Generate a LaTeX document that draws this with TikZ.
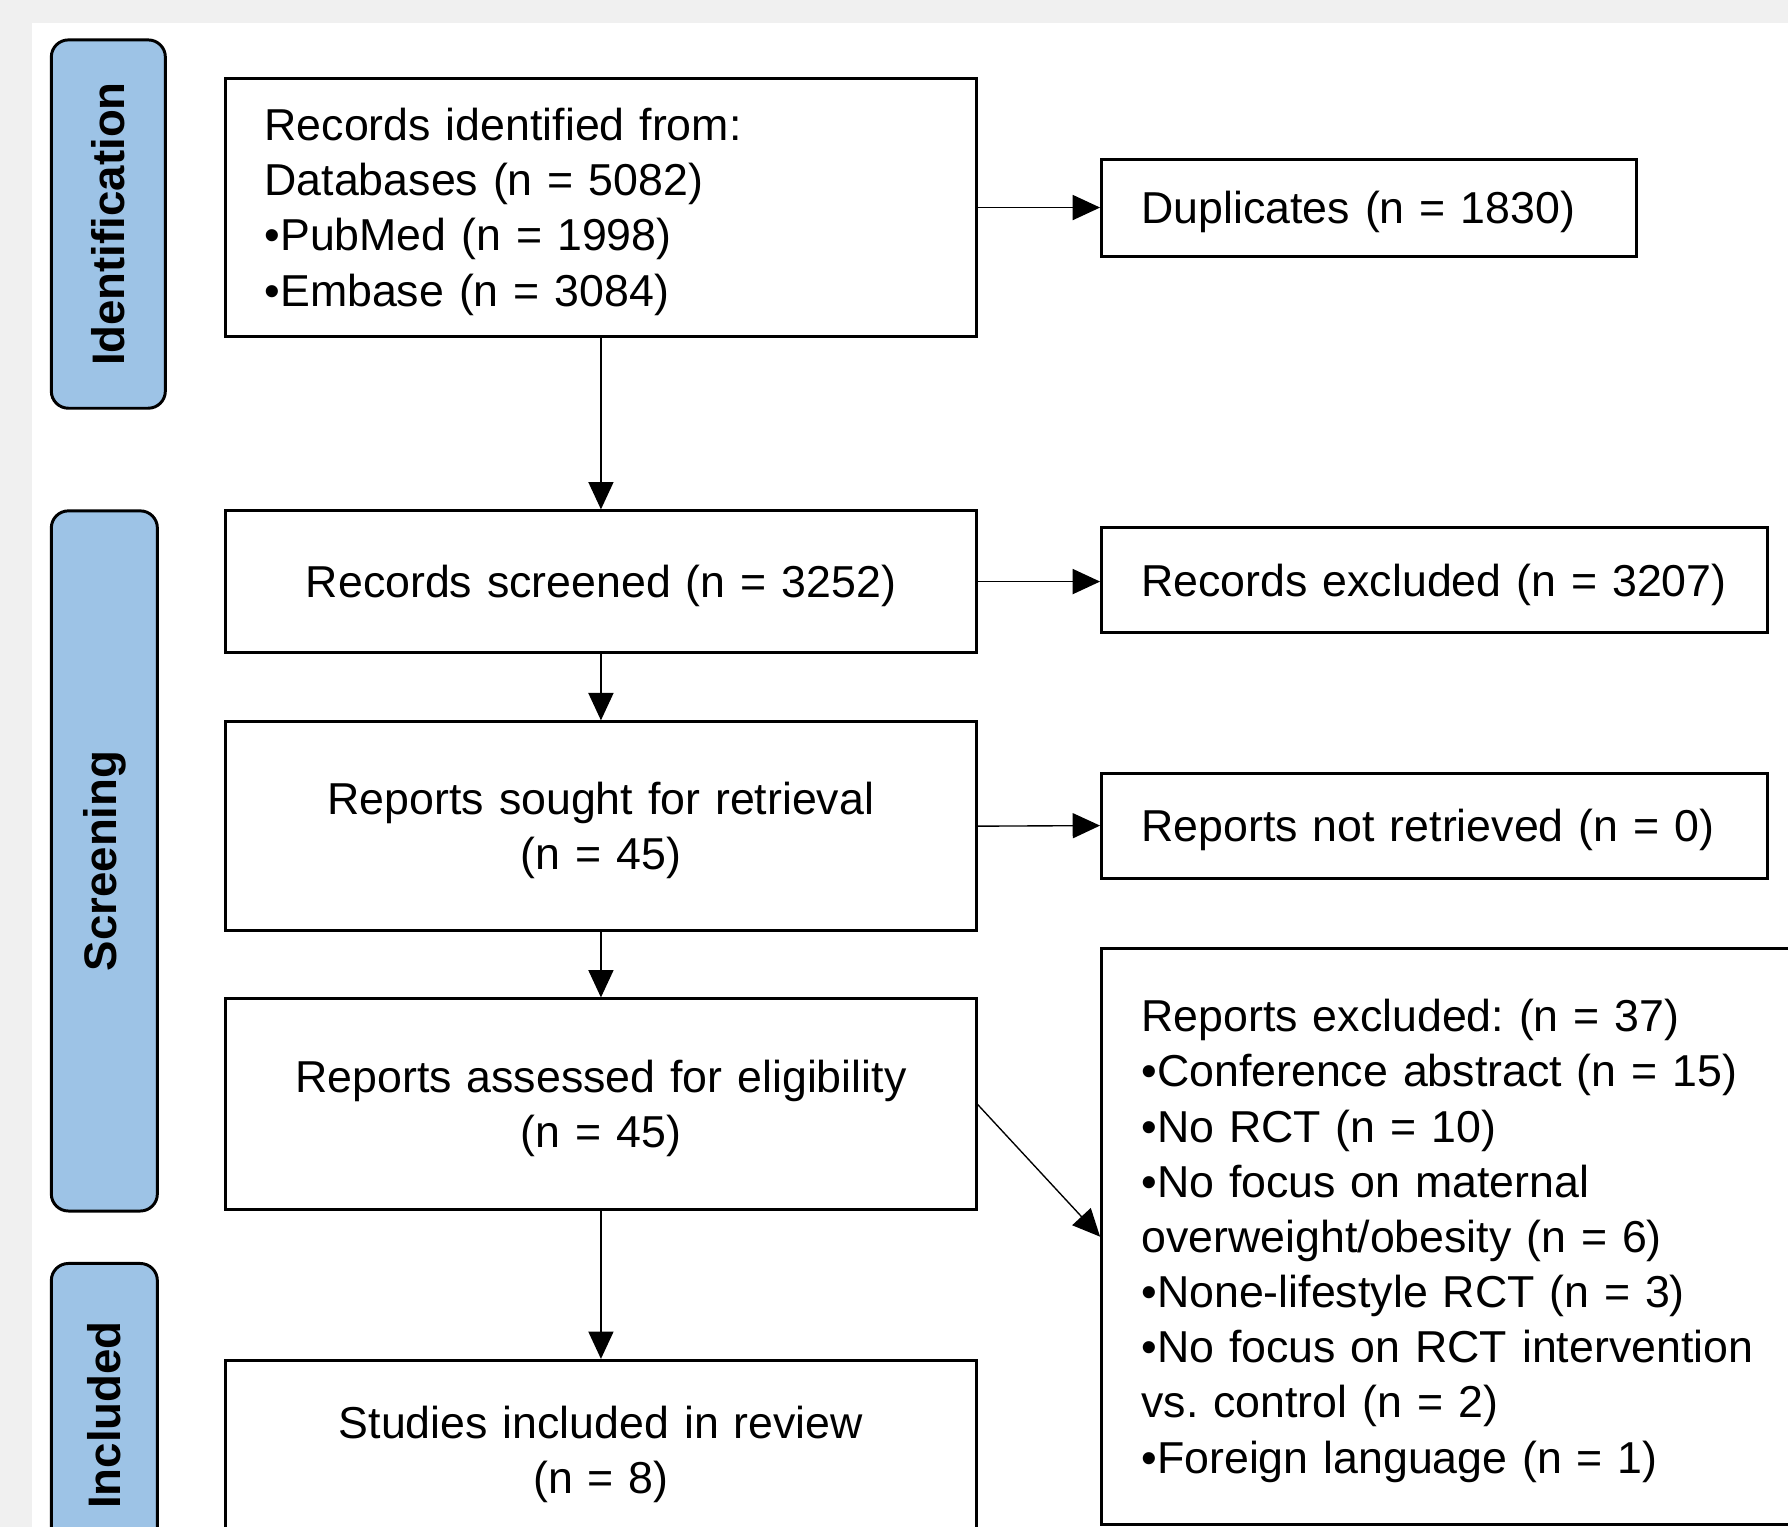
\documentclass[tikz,border=0pt]{standalone}
\usepackage{fontspec}
\setmainfont{Liberation Sans}[WordSpace=0.8]
\usetikzlibrary{arrows.meta}
\definecolor{bggray}{HTML}{F0F0F0}
\definecolor{phaseblue}{HTML}{9DC3E6}
\newcommand{\mainfnt}{\fontsize{19.6pt}{24.2pt}\selectfont\frenchspacing}
\begin{document}
\begin{tikzpicture}[x=0.5pt,y=-0.5pt,
  every node/.style={font=\mainfnt},
  box/.style={draw=black, line width=1.3pt, fill=white, inner ysep=0pt},
  lines/.style={text depth={(#1-1)*24.2pt+0.4pt}},
  cbox/.style={box, inner xsep=0pt, align=center},
  lbox/.style={box, inner xsep=17.5pt, align=left},
  phase/.style={draw=black, line width=1.3pt, fill=phaseblue, rounded corners=7.5pt,
    rotate=90, inner sep=0pt, font=\fontsize{20pt}{24pt}\selectfont\bfseries},
  arr/.style={line width=0.6pt, -{Triangle[length=12pt,width=11pt]}}
]
\useasboundingbox (0,0) rectangle (1568,1339);
\clip (0,0) rectangle (1568,1339);
\fill[bggray] (0,0) rectangle (1568,1339);
\fill[white] (28,20) rectangle (1568,1339);

% phase labels
\node[phase, minimum width=161.5pt, minimum height=50pt] (pid) at (95,196.5) {Identification};
\node[phase, minimum width=307pt, minimum height=46.5pt] (pscr) at (91.5,755) {Screening};
\node[phase, minimum width=133pt, minimum height=46.5pt] (pinc) at (91.5,1241) {Included};

% main column
\node[lbox, lines=4, inner xsep=17pt, text width=295pt, minimum height=113pt] (b1) at (527,182)
  {Records identified from:\\Databases (n = 5082)\\•PubMed (n = 1998)\\•Embase (n = 3084)};
\node[cbox, lines=1, text width=329pt, minimum height=62pt] (b2) at (527,510)
  {Records screened (n = 3252)};
\node[cbox, lines=2, text width=329pt, minimum height=91.5pt] (b3) at (527,724.5)
  {Reports sought for retrieval\\(n = 45)};
\node[cbox, lines=2, text width=329pt, minimum height=92.5pt] (b4) at (527,968.5)
  {Reports assessed for eligibility\\(n = 45)};
\node[cbox, lines=2, text width=329pt, minimum height=78.5pt] (b5) at (527,1271.5)
  {Studies included in review\\(n = 8)};

% right column
\node[lbox, lines=1, text width=199.5pt, minimum height=42.5pt] (dup) at (1200.5,182.5)
  {Duplicates (n = 1830)};
\node[lbox, lines=1, inner xsep=6pt, text width=280pt, minimum height=46pt] (exc) at (1258,509)
  {\hspace*{11.5pt}Records excluded (n = 3207)};
\node[lbox, lines=1, inner xsep=6pt, text width=280pt, minimum height=46pt] (nrt) at (1258,724)
  {\hspace*{11.5pt}Reports not retrieved (n = 0)};
\node[lbox, lines=9, text width=280pt, minimum height=252.5pt] (rex) at (1281,1084.5)
  {Reports excluded: (n = 37)\\
   •Conference abstract (n = 15)\\
   •No RCT (n = 10)\\
   •No focus on maternal\\
   overweight/obesity (n = 6)\\
   •None-lifestyle RCT (n = 3)\\
   •No focus on RCT intervention\\
   vs. control (n = 2)\\
   •Foreign language (n = 1)};

% connectors
\draw[arr] (b1.south) -- (b2.north);
\draw[arr] (b2.south) -- (b3.north);
\draw[arr] (b3.south) -- (b4.north);
\draw[arr] (b4.south) -- (b5.north);
\draw[arr] (b1.east) -- (b1.east -| dup.west);
\draw[arr] (b2.east) -- (b2.east -| exc.west);
\draw[arr] (b3.east) -- (nrt.west);
\draw[arr] (b4.east) -- (rex.west);
\end{tikzpicture}
\end{document}
